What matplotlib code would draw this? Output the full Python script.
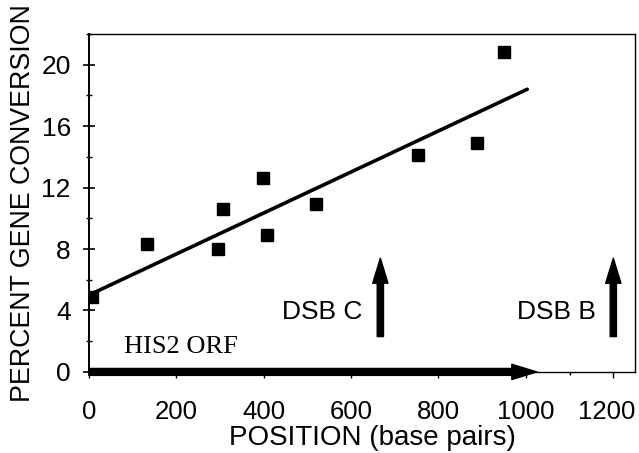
import matplotlib
matplotlib.use("Agg")
import matplotlib.pyplot as plt
import matplotlib.transforms as mtransforms
from matplotlib.ticker import MultipleLocator

plt.rcParams['font.family'] = ['Liberation Sans', 'DejaVu Sans']

# measured gene conversion along HIS2
position = [8, 133, 296, 307, 398, 407, 520, 754, 887, 949]
percent = [4.9, 8.3, 8.0, 10.6, 12.6, 8.9, 10.9, 14.1, 14.9, 20.8]

# fitted line end points
fit_x = [0, 1003]
fit_y = [5.0, 18.4]

# features
orf_start, orf_end = 0, 1025
dsb_pos = [667, 1200]
dsb_labels = ["DSB C", "DSB B"]
arrow_lo, arrow_hi = 2.3, 7.4

fig = plt.figure(figsize=(6.39, 4.53), dpi=100)
ax = fig.add_axes([0.139, 0.179, 0.855, 0.746])

ax.plot(fit_x, fit_y, color='black', lw=2.6, solid_capstyle='round')
ax.plot(position, percent, ls='none', marker='s', ms=9, color='black')

# HIS2 ORF arrow on the baseline
ax.annotate('', xy=(orf_end, 0), xytext=(orf_start, 0),
            arrowprops=dict(arrowstyle='simple,head_width=1.1,head_length=1.8,tail_width=0.5',
                            mutation_scale=10, color='black', shrinkA=0, shrinkB=0),
            annotation_clip=False)
ax.text(80, 1.6, "HIS2 ORF", family='Liberation Serif', fontsize=19, va='center', ha='left')

for xp, lab in zip(dsb_pos, dsb_labels):
    ax.annotate('', xy=(xp, arrow_hi), xytext=(xp, arrow_lo),
                arrowprops=dict(arrowstyle='simple,head_width=1.1,head_length=1.8,tail_width=0.45',
                                mutation_scale=10, color='black', shrinkA=0, shrinkB=0))
    ax.text(xp - 40, 3.9, lab, fontsize=19, ha='right', va='center')

ax.set_xlim(0, 1250)
ax.set_ylim(0, 22)
ax.xaxis.set_major_locator(MultipleLocator(200))
ax.xaxis.set_minor_locator(MultipleLocator(100))
ax.yaxis.set_major_locator(MultipleLocator(4))
ax.yaxis.set_minor_locator(MultipleLocator(2))
ax.tick_params(axis='y', which='major', direction='inout', length=8, width=1.2, labelsize=19, pad=9)
ax.tick_params(axis='y', which='minor', direction='inout', length=4, width=1)
ax.tick_params(axis='x', which='major', direction='out', length=4, width=1, labelsize=18.5, pad=16)
ax.tick_params(axis='x', which='minor', direction='out', length=2, width=1)

for s in ax.spines.values():
    s.set_linewidth(1.0)
ax.spines['left'].set_linewidth(1.4)

ax.set_xlabel("POSITION (base pairs)", fontsize=20, labelpad=0)
ax.xaxis.set_label_coords(0.52, -0.158)
ax.set_ylabel("PERCENT GENE CONVERSION", fontsize=19.3, labelpad=4)

# nudge the last x tick label so it stays inside the figure
fig.canvas.draw()
last = [t for t in ax.get_xticklabels() if t.get_text() == '1200']
for t in last:
    t.set_transform(t.get_transform() + mtransforms.ScaledTranslation(-5 / 72, 0, fig.dpi_scale_trans))

fig.savefig("out.png", dpi=100)
